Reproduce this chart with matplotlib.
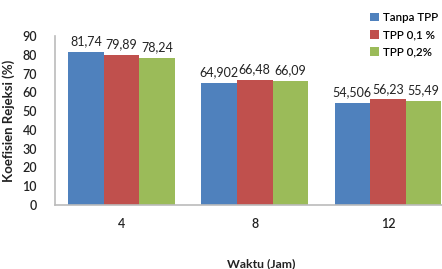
import numpy as np
import matplotlib.pyplot as plt

waktu = ["4", "8", "12"]
tanpa_tpp = [81.74, 64.902, 54.506]
tpp_01 = [79.89, 66.48, 56.23]
tpp_02 = [78.24, 66.09, 55.49]
label_tanpa = ["81,74", "64,902", "54,506"]
label_01 = ["79,89", "66,48", "56,23"]
label_02 = ["78,24", "66,09", "55,49"]
series_names = ["Tanpa TPP", "TPP 0,1 %", "TPP 0,2%"]
colors = ["#4F81BD", "#C0504D", "#9BBB59"]

plt.rcParams['font.family'] = ['Lato', 'DejaVu Sans']

fig = plt.figure(figsize=(4.42, 2.69), dpi=100)
ax = fig.add_axes([55/442, 64/269, 399.5/442, 169/269])

x = np.arange(len(waktu))
w = 0.8 / 3
allvals = [tanpa_tpp, tpp_01, tpp_02]
alllabels = [label_tanpa, label_01, label_02]
handles = []
for i, (vals, labs) in enumerate(zip(allvals, alllabels)):
    pos = x + (i - 1) * w
    b = ax.bar(pos, vals, w, color=colors[i], label=series_names[i])
    handles.append(b)
    for p, v, l in zip(pos, vals, labs):
        ax.text(p, v + 2.5, l, ha='center', va='bottom', fontsize=9, color='#222222')

ax.set_xlim(-0.5, 2.5)
ax.set_ylim(0, 90)
ax.set_yticks(range(0, 91, 10))
ax.set_xticks(x)
ax.set_xticklabels(waktu)
ax.tick_params(axis='both', length=0, labelsize=9, colors='#222222')
ax.tick_params(axis='y', pad=13)
ax.tick_params(axis='x', pad=9)
for lab in ax.get_yticklabels() + ax.get_xticklabels():
    lab.set_fontweight('semibold')
for s in ['top', 'right']:
    ax.spines[s].set_visible(False)
for s in ['left', 'bottom']:
    ax.spines[s].set_color('#BBBBBB')
    ax.spines[s].set_linewidth(1.2)

ax.set_ylabel("Koefisien Rejeksi (%)", fontsize=9.5, fontweight='bold', color='#222222', labelpad=5)
fig.text(261/442, 1 - 264/269, "Waktu (Jam)", ha='center', va='center', fontsize=8.8, fontweight='bold', color='#222222')

fig.legend(handles=handles, labels=series_names, loc='upper left', bbox_to_anchor=(370/442, 1 - 12/269),
           frameon=False, handlelength=0.8, handleheight=0.8, handletextpad=0.3,
           labelspacing=0.55, borderaxespad=0, borderpad=0,
           prop={'weight': 'semibold', 'size': 8.3})

fig.savefig("out.png", dpi=100)
